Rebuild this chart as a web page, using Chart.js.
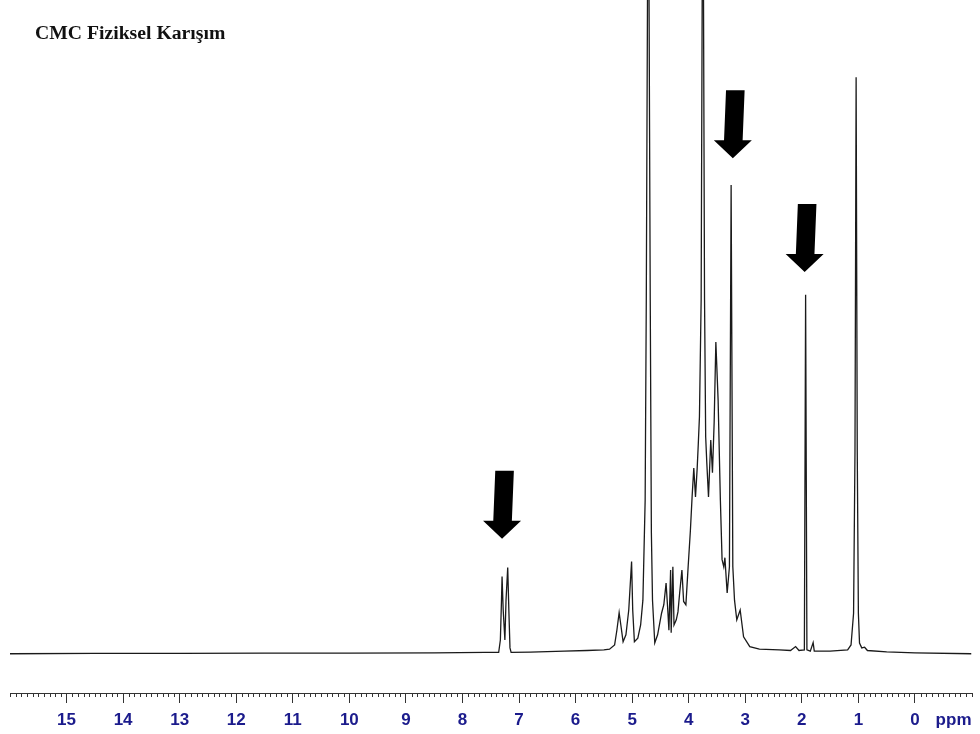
<!DOCTYPE html>
<html>
<head>
<meta charset="utf-8">
<title>CMC Fiziksel Karışım</title>
<script src="https://cdn.jsdelivr.net/npm/chart.js@4.4.1/dist/chart.umd.min.js"></script>
<style>
  html, body { margin: 0; padding: 0; background: #ffffff; }
  #wrap { width: 980px; height: 734px; }
</style>
</head>
<body>
<div id="wrap"><canvas id="spectrum" width="980" height="734"></canvas></div>
<script>
// 1H NMR spectrum of the CMC physical mixture
const titleText = 'CMC Fiziksel Karışım';
const unitLabel = 'ppm';

// labelled chemical shift ticks (ppm)
const tickLabels = [15, 14, 13, 12, 11, 10, 9, 8, 7, 6, 5, 4, 3, 2, 1, 0];

// spectrum trace: chemical shift (ppm) and intensity (a.u.)
const shiftPpm = [
  16.00, 14.50, 13.00, 11.50, 10.00, 8.50, 7.60,
  // aromatic doublet
  7.36, 7.33, 7.31, 7.30, 7.28, 7.25, 7.23, 7.20, 7.18, 7.16, 7.14,
  6.80, 6.20, 5.80, 5.50,
  // anomeric / carbohydrate region
  5.40, 5.31, 5.27, 5.23, 5.20, 5.16, 5.11, 5.06, 5.01, 4.99, 4.96, 4.90, 4.85,
  4.81, 4.77, 4.75, 4.715, 4.68, 4.66, 4.64, 4.60, 4.55,
  4.48, 4.44, 4.40, 4.37, 4.35, 4.32, 4.31, 4.28, 4.26, 4.22, 4.19, 4.16, 4.12,
  4.09, 4.05, 4.01, 3.97, 3.94, 3.91, 3.88, 3.85, 3.83, 3.81, 3.78, 3.75, 3.72,
  3.70, 3.68, 3.65, 3.61, 3.58, 3.55, 3.52, 3.48, 3.44, 3.41, 3.38, 3.36, 3.32,
  3.28, 3.25, 3.22, 3.19, 3.15, 3.09, 3.03, 2.92, 2.75,
  // aliphatic region
  2.40, 2.20, 2.11, 2.05, 1.955, 1.933, 1.91, 1.85, 1.80, 1.78, 1.50,
  1.19, 1.13, 1.085, 1.06, 1.04, 1.02, 1.00, 0.98, 0.94, 0.89, 0.84,
  0.50, 0.00, -1.00
];
const intensity = [
  0.0, 0.05, 0.05, 0.1, 0.1, 0.15, 0.2,
  0.2, 2.1, 8.2, 11.8, 6.7, 2.1, 8.2, 13.2, 6.7, 0.9, 0.2,
  0.25, 0.4, 0.5, 0.6,
  0.7, 1.35, 3.6, 6.3, 4.4, 1.85, 2.9, 6.7, 14.1, 6.7, 1.85, 2.4, 4.4,
  8.2, 23.5, 54.1, 130, 54.1, 18.5, 8.2, 1.65, 2.9,
  6.2, 7.5, 10.8, 6.7, 3.6, 12.8, 3.2, 13.3, 4.4, 5.2, 6.4, 9.3, 12.8,
  8.0, 7.5, 13.3, 18.9, 24.0, 28.4, 24.0, 28.4, 32.2, 36.3, 54.1, 130, 54.1,
  33.2, 29.2, 24.0, 32.7, 27.7, 35.4, 47.7, 38.8, 23.5, 14.4, 13.3, 14.7, 9.3,
  13.3, 71.7, 13.3, 8.2, 5.2, 6.7, 2.6, 1.1, 0.7,
  0.6, 0.5, 1.1, 0.5, 0.6, 54.9, 0.6, 0.4, 1.7, 0.4, 0.4,
  0.6, 1.35, 6.2, 31, 88.2, 31, 6.2, 1.65, 0.9, 1.0, 0.5,
  0.3, 0.15, 0.0
];

// peaks marked with arrows (shift, intensity just above the peak top)
const markedPpm = [7.30, 3.22, 1.95];
const markedIntensity = [17.6, 75.8, 58.4];

const points = shiftPpm.map((x, i) => ({ x: x, y: intensity[i] }));

const AXIS_COLOR = '#333333';
const LABEL_COLOR = '#1b1b8c';
const LABEL_FONT = { family: '"Liberation Sans", Arial, sans-serif', size: 17, weight: 'bold', lineHeight: 1.0 };

// minor ticks every 0.1 ppm along the shift axis
const minorTicks = {
  id: 'minorTicks',
  afterDraw(chart) {
    const sx = chart.scales.x;
    const y0 = chart.chartArea.bottom;
    const ctx = chart.ctx;
    ctx.save();
    ctx.strokeStyle = AXIS_COLOR;
    ctx.lineWidth = 1;
    ctx.beginPath();
    for (let i = Math.round(sx.min * 10); i <= Math.round(sx.max * 10); i++) {
      const v = i / 10;
      if (i % 10 === 0 && tickLabels.includes(v)) continue;
      const px = Math.round(sx.getPixelForValue(v)) + 0.5;
      ctx.moveTo(px, y0);
      ctx.lineTo(px, y0 + 4);
    }
    ctx.stroke();
    ctx.restore();
  }
};

// title, unit label and arrows over the plot
const decorations = {
  id: 'decorations',
  afterDraw(chart) {
    const ctx = chart.ctx;
    const sx = chart.scales.x;
    const sy = chart.scales.y;
    ctx.save();

    ctx.fillStyle = '#111111';
    ctx.font = 'bold 19.7px "Liberation Serif", "Times New Roman", serif';
    ctx.textAlign = 'left';
    ctx.textBaseline = 'alphabetic';
    ctx.fillText(titleText, 35, 39);

    const items = sx.getLabelItems(chart.chartArea);
    const ref = items.find(it => it.label === '0') || items[0];
    ctx.fillStyle = LABEL_COLOR;
    ctx.font = `${LABEL_FONT.weight} ${LABEL_FONT.size}px ${LABEL_FONT.family}`;
    ctx.textAlign = 'right';
    ctx.textBaseline = ref.options.textBaseline;
    ctx.fillText(unitLabel, sx.right, ref.options.translation[1] + (ref.textOffset || 0));

    ctx.fillStyle = '#000000';
    markedPpm.forEach((ppm, i) => {
      const tx = sx.getPixelForValue(ppm);
      const ty = sy.getPixelForValue(markedIntensity[i]);
      const headW = 19, headH = 18, shaftW = 9.3, shaftL = 50, lean = 2;
      ctx.beginPath();
      ctx.moveTo(tx, ty);
      ctx.lineTo(tx - headW, ty - headH);
      ctx.lineTo(tx - shaftW + 0.5, ty - headH);
      ctx.lineTo(tx - shaftW + lean + 0.5, ty - headH - shaftL);
      ctx.lineTo(tx + shaftW + lean + 0.5, ty - headH - shaftL);
      ctx.lineTo(tx + shaftW + 0.5, ty - headH);
      ctx.lineTo(tx + headW, ty - headH);
      ctx.closePath();
      ctx.fill();
    });
    ctx.restore();
  }
};

new Chart(document.getElementById('spectrum'), {
  type: 'line',
  data: {
    datasets: [{
      data: points,
      borderColor: '#1a1a1a',
      borderWidth: 1.3,
      pointRadius: 0,
      tension: 0,
      fill: false
    }]
  },
  options: {
    responsive: false,
    animation: false,
    devicePixelRatio: 1,
    layout: { padding: { left: 10, right: 8, top: 0, bottom: 0 } },
    plugins: {
      legend: { display: false },
      tooltip: { enabled: false },
      title: { display: false }
    },
    scales: {
      x: {
        type: 'linear',
        reverse: true,
        min: -1,
        max: 16,
        afterFit: (scale) => { scale.height = 41; },
        border: { display: true, color: AXIS_COLOR, width: 1 },
        grid: {
          drawOnChartArea: false,
          drawTicks: true,
          tickLength: 10,
          tickWidth: 1,
          tickColor: (c) => (c.tick && tickLabels.includes(c.tick.value)) ? AXIS_COLOR : 'rgba(0,0,0,0)'
        },
        ticks: {
          stepSize: 1,
          autoSkip: false,
          maxRotation: 0,
          padding: 8.5,
          color: LABEL_COLOR,
          font: LABEL_FONT,
          callback: (v) => tickLabels.includes(v) ? String(v) : ''
        }
      },
      y: {
        display: false,
        min: -6,
        max: 100
      }
    }
  },
  plugins: [minorTicks, decorations]
});
</script>
</body>
</html>
